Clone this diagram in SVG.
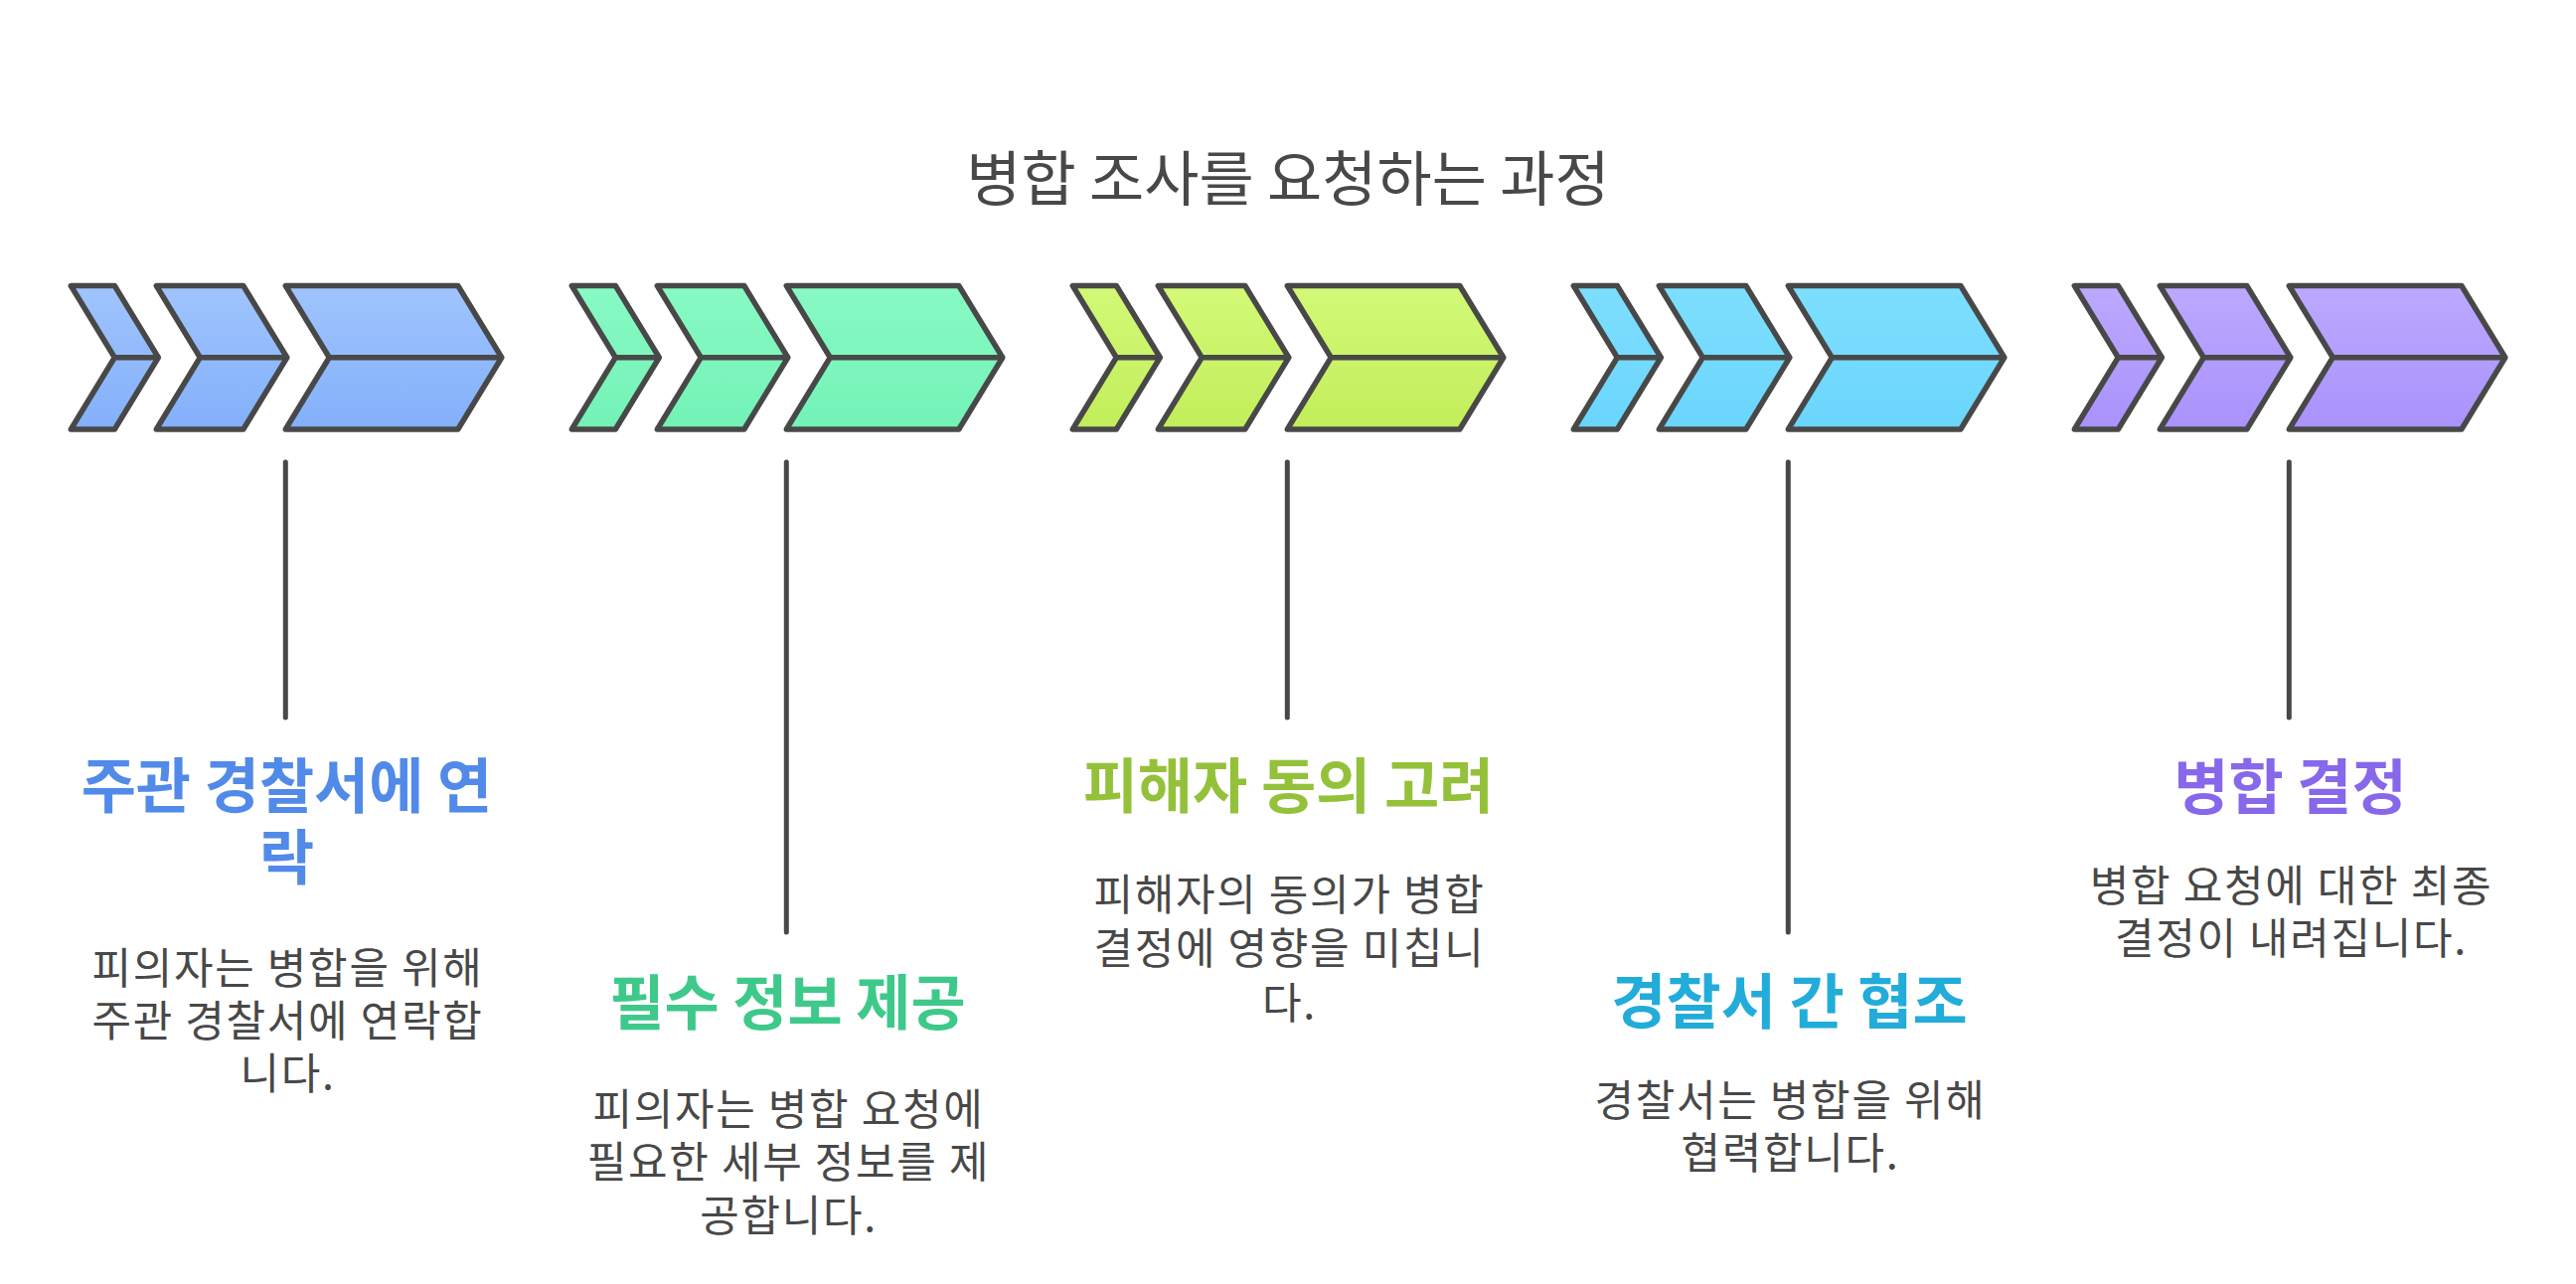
<svg xmlns="http://www.w3.org/2000/svg" width="2592" height="1292" viewBox="0 0 2592 1292">
<defs>
<linearGradient id="gBlue" gradientUnits="userSpaceOnUse" x1="0" y1="287" x2="0" y2="432"><stop offset="0" stop-color="#a0c4fd"/><stop offset="1" stop-color="#83b0fb"/></linearGradient>
<linearGradient id="gGreen" gradientUnits="userSpaceOnUse" x1="0" y1="287" x2="0" y2="432"><stop offset="0" stop-color="#88fac4"/><stop offset="1" stop-color="#73f2b6"/></linearGradient>
<linearGradient id="gLime" gradientUnits="userSpaceOnUse" x1="0" y1="287" x2="0" y2="432"><stop offset="0" stop-color="#d3f977"/><stop offset="1" stop-color="#c2ee5a"/></linearGradient>
<linearGradient id="gCyan" gradientUnits="userSpaceOnUse" x1="0" y1="287" x2="0" y2="432"><stop offset="0" stop-color="#7edffe"/><stop offset="1" stop-color="#6ad5fc"/></linearGradient>
<linearGradient id="gPurple" gradientUnits="userSpaceOnUse" x1="0" y1="287" x2="0" y2="432"><stop offset="0" stop-color="#bca9fe"/><stop offset="1" stop-color="#a992fc"/></linearGradient>
<g id="chev">
<path d="M0,287.5 H44 L88,359.75 L44,432 H0 L44,359.75 Z M44,359.75 H88"/>
<path d="M86,287.5 H173.5 L217.5,359.75 L173.5,432 H86 L130,359.75 Z M130,359.75 H217.5"/>
<path d="M216,287.5 H389.5 L433.5,359.75 L389.5,432 H216 L260,359.75 Z M260,359.75 H433.5"/>
</g>
</defs>
<style>
.chv{stroke:#484848;stroke-width:5.5;stroke-linejoin:round;stroke-linecap:round}
.conn line{stroke:#484848;stroke-width:5;stroke-linecap:round}
text{font-family:"Noto Sans CJK KR","Noto Sans",sans-serif;text-anchor:middle}
.main{font-size:60px;fill:#484848}
.ttl{font-size:60px;font-weight:700}
.desc{font-size:43px;fill:#484848;letter-spacing:1.7px}
</style>
<rect width="2592" height="1292" fill="#ffffff"/>
<text class="main" x="1296" y="201.8">병합 조사를 요청하는 과정</text>
<g id="connectors" class="conn">
<line x1="287.3" y1="465" x2="287.3" y2="722"/>
<line x1="791.3" y1="465" x2="791.3" y2="938"/>
<line x1="1295.3" y1="465" x2="1295.3" y2="722"/>
<line x1="1799.3" y1="465" x2="1799.3" y2="938"/>
<line x1="2303.3" y1="465" x2="2303.3" y2="722"/>
</g>
<g id="step1">
<use href="#chev" class="chv" fill="url(#gBlue)" transform="translate(71.3,0)"/>
<text class="ttl" fill="#518ae8"><tspan x="288.5" y="813.3">주관 경찰서에 연</tspan><tspan x="288.5" y="885.3">락</tspan></text>
<text class="desc"><tspan x="289.5" y="989.8">피의자는 병합을 위해</tspan><tspan x="289.5" y="1042.8">주관 경찰서에 연락합</tspan><tspan x="289.5" y="1096.3">니다.</tspan></text>
</g>
<g id="step2">
<use href="#chev" class="chv" fill="url(#gGreen)" transform="translate(575.3,0)"/>
<text class="ttl" fill="#3ec98b" x="792.5" y="1031.3">필수 정보 제공</text>
<text class="desc"><tspan x="793.5" y="1132.3">피의자는 병합 요청에</tspan><tspan x="793.5" y="1185.3">필요한 세부 정보를 제</tspan><tspan x="793.5" y="1239.3">공합니다.</tspan></text>
</g>
<g id="step3">
<use href="#chev" class="chv" fill="url(#gLime)" transform="translate(1079.3,0)"/>
<text class="ttl" fill="#94c13a" x="1296.5" y="813.3">피해자 동의 고려</text>
<text class="desc"><tspan x="1297.5" y="916.3">피해자의 동의가 병합</tspan><tspan x="1297.5" y="970">결정에 영향을 미칩니</tspan><tspan x="1297.5" y="1024.6">다.</tspan></text>
</g>
<g id="step4">
<use href="#chev" class="chv" fill="url(#gCyan)" transform="translate(1583.3,0)"/>
<text class="ttl" fill="#22acd9" x="1800.5" y="1029.8">경찰서 간 협조</text>
<text class="desc"><tspan x="1801.5" y="1122.8">경찰서는 병합을 위해</tspan><tspan x="1801.5" y="1176.3">협력합니다.</tspan></text>
</g>
<g id="step5">
<use href="#chev" class="chv" fill="url(#gPurple)" transform="translate(2087.3,0)"/>
<text class="ttl" fill="#8767ea" x="2304.5" y="813.8">병합 결정</text>
<text class="desc"><tspan x="2305.5" y="907.3">병합 요청에 대한 최종</tspan><tspan x="2305.5" y="960.3">결정이 내려집니다.</tspan></text>
</g>
</svg>
